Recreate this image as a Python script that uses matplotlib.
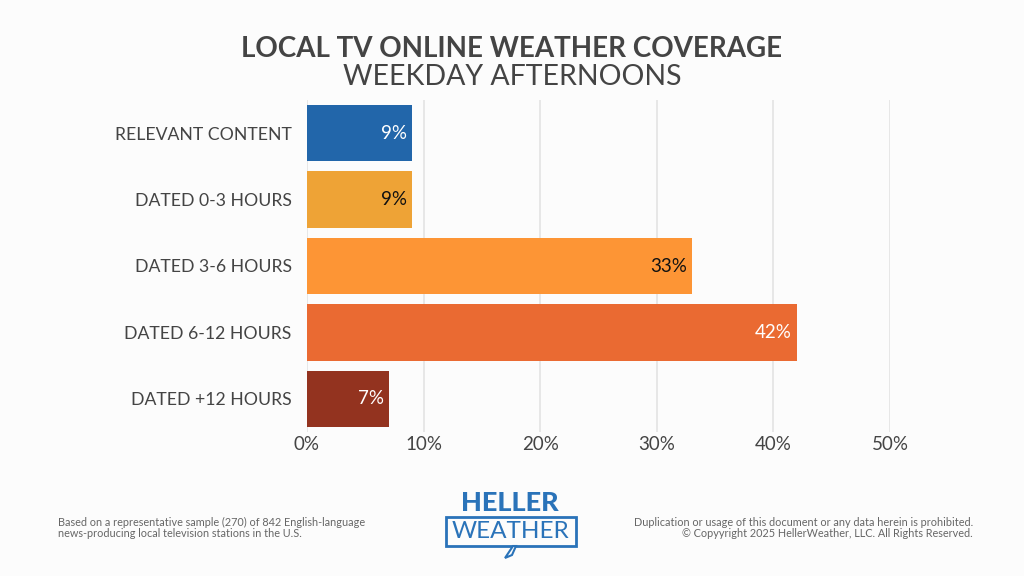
import matplotlib.pyplot as plt
from matplotlib.patches import FancyBboxPatch, Polygon

categories = ["RELEVANT CONTENT", "DATED 0-3 HOURS", "DATED 3-6 HOURS",
              "DATED 6-12 HOURS", "DATED +12 HOURS"]
values = [9, 9, 33, 42, 7]
colors = ["#2266aa", "#eea336", "#fd9535", "#ea6a32", "#93331f"]
label_colors = ["white", "#111111", "#111111", "white", "white"]
xticks = [0, 10, 20, 30, 40, 50]

plt.rcParams["font.family"] = ["Lato", "DejaVu Sans"]
bg = "#fcfcfc"
text_gray = "#444444"

fig = plt.figure(figsize=(10.24, 5.76), dpi=100, facecolor=bg)
ax = fig.add_axes([307 / 1024, 1 - 432 / 576, (890 - 307) / 1024, 332 / 576])
ax.set_facecolor(bg)

y = list(range(len(categories)))
ax.barh(y, values, height=0.85, color=colors, zorder=3)
for yi, v, lc in zip(y, values, label_colors):
    ax.text(v - 0.4, yi, f"{v}%", ha="right", va="center", color=lc,
            fontsize=13.5, zorder=4)

ax.set_xlim(0, 50)
ax.set_ylim(len(categories) - 0.5, -0.5)
ax.set_yticks(y)
ax.set_yticklabels(categories, fontsize=12.7, color=text_gray)
ax.set_xticks(xticks)
ax.set_xticklabels([f"{t}%" for t in xticks], fontsize=13.5, color=text_gray)
ax.tick_params(axis="y", length=0, pad=11)
ax.tick_params(axis="x", length=0, pad=3)
ax.grid(axis="x", color="#e3e3e3", lw=1.2, zorder=0)
for s in ax.spines.values():
    s.set_visible(False)

fig.text(0.5, 1 - 49 / 576, "LOCAL TV ONLINE WEATHER COVERAGE", ha="center",
         va="center", fontsize=20, fontweight="bold", color=text_gray)
fig.text(0.5, 1 - 77 / 576, "WEEKDAY AFTERNOONS", ha="center",
         va="center", fontsize=20.5, color=text_gray)

foot = "#666666"
fig.text(58 / 1024, 1 - 528 / 576,
         "Based on a representative sample (270) of 842 English-language\n"
         "news-producing local television stations in the U.S.",
         ha="left", va="center", fontsize=7.8, color=foot, linespacing=0.9)
fig.text(973 / 1024, 1 - 528 / 576,
         "Duplication or usage of this document or any data herein is prohibited.\n"
         "\u00a9 Copyyright 2025 HellerWeather, LLC. All Rights Reserved.",
         ha="right", va="center", fontsize=7.8, color=foot, linespacing=0.9,
         multialignment="right")

# logo
blue = "#2a73b9"
fig.text(510 / 1024, 1 - 503 / 576, "HELLER", ha="center", va="center",
         fontsize=19.5, fontweight="black", color=blue)
box = FancyBboxPatch((446 / 1024, 1 - 546 / 576), 130 / 1024, 29 / 576,
                     boxstyle="square,pad=0", fill=False, ec=blue, lw=2,
                     transform=fig.transFigure)
fig.patches.append(box)
fig.text(511 / 1024, 1 - 531 / 576, "WEATHER", ha="center", va="center",
         fontsize=17.5, color=blue)
bolt = Polygon([(513 / 1024, 1 - 546 / 576), (505 / 1024, 1 - 558 / 576),
                (512 / 1024, 1 - 555 / 576), (516 / 1024, 1 - 546 / 576)],
               closed=True, fc=bg, ec=blue, lw=1.5, transform=fig.transFigure)
fig.patches.append(bolt)

fig.savefig("out.png", dpi=100, facecolor=bg)
